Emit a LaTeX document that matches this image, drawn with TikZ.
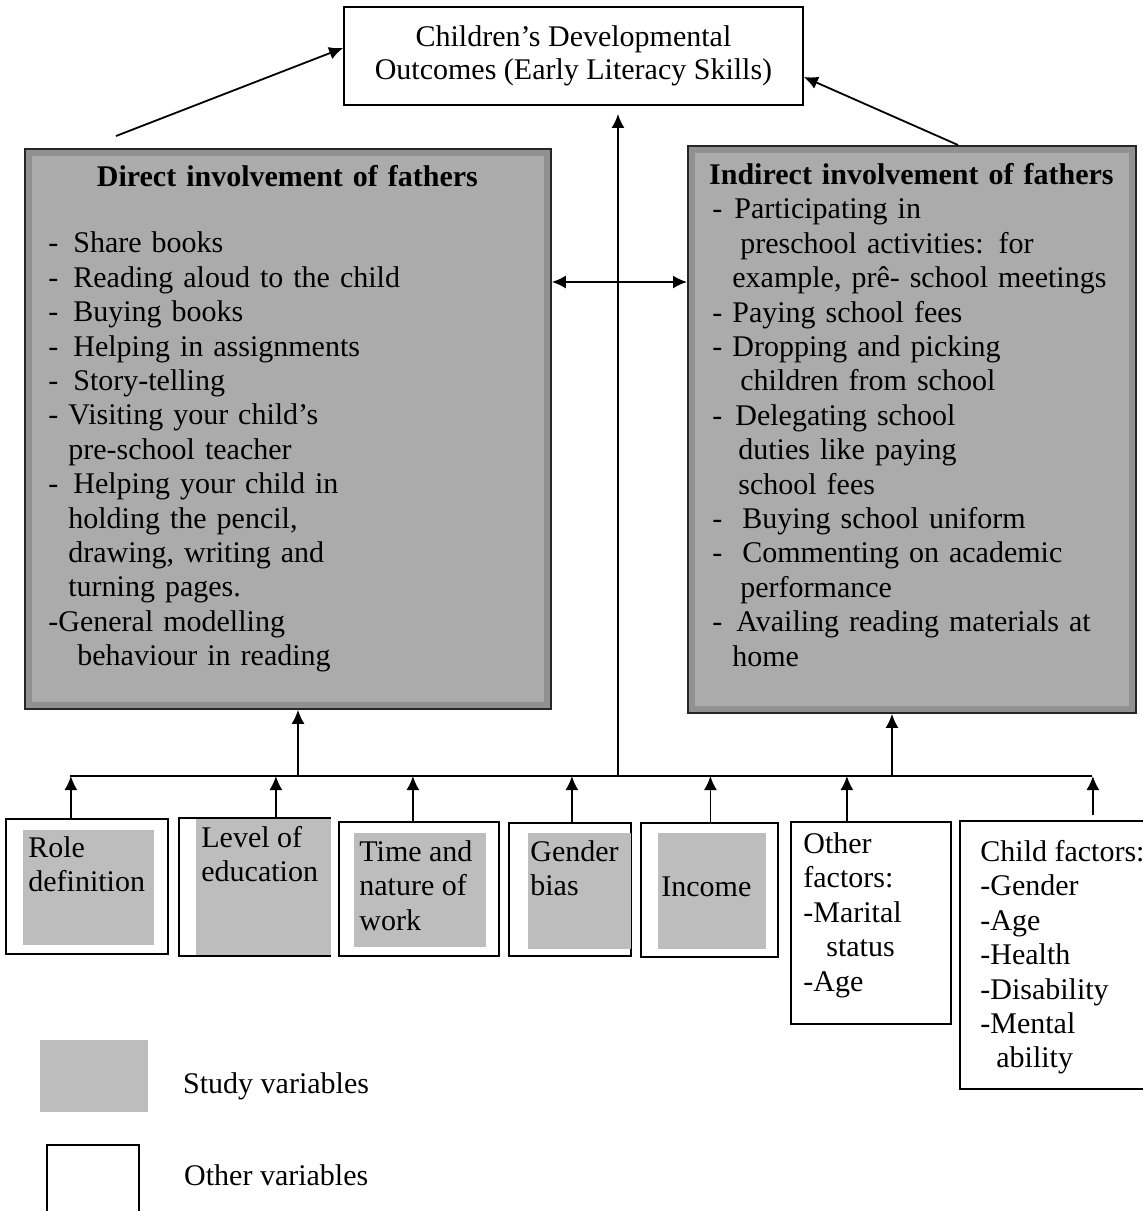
\documentclass[tikz,border=0pt]{standalone}
\usepackage{fontspec}
\setmainfont{Liberation Serif}
\usepackage{xcolor}
\usepackage{tikz}
\usetikzlibrary{calc, arrows.meta, positioning}

\definecolor{boxgray}{gray}{0.67}
\definecolor{edgegray}{gray}{0.57}
\definecolor{studygray}{gray}{0.74}

\tikzset{
  outbox/.style={draw, line width=0.9pt, fill=white, inner sep=0pt},
  bigbox/.style={draw=black!85, line width=0.9pt, fill=boxgray, anchor=north west, inner sep=0pt,
    path picture={\draw[edgegray, line width=7pt] (path picture bounding box.north west) rectangle (path picture bounding box.south east);}},
  factor/.style={draw, line width=0.9pt, fill=white, anchor=north west, inner sep=0pt},
  txt/.style={anchor=north west, align=left, inner sep=0pt},
  link/.style={line width=0.9pt, ->},
}

\begin{document}
\begin{tikzpicture}[x=0.5pt, y=-0.5pt, >={Latex[length=7pt, width=6.5pt]},
    every node/.style={font=\fontsize{15}{17.2}\selectfont}]
    \useasboundingbox (0,0) rectangle (1143,1211);

    % 1. Outcome box at the top
    \node[outbox, minimum width=229.5pt, minimum height=49pt, align=center,
        font=\fontsize{15}{16.5}\selectfont] (outcome) at (573.5,56)
        {Children’s Developmental\\Outcomes (Early Literacy Skills)};

    % 2. Direct and indirect involvement boxes
    \node[bigbox, minimum width=263pt, minimum height=280pt] (direct) at (24,148) {};
    \node[bigbox, minimum width=224pt, minimum height=283.5pt] (indirect) at (687,145) {};

    \node[txt, text width=239pt] (directtext) at (48,162) {\strut\makebox[\linewidth]{\textbf{Direct involvement of fathers}}\\[16pt]
        -\hspace{7.5pt}Share books\\
        -\hspace{7.5pt}Reading aloud to the child\\
        -\hspace{7.5pt}Buying books\\
        -\hspace{7.5pt}Helping in assignments\\
        -\hspace{7.5pt}Story-telling\\
        - Visiting your child’s\\
        \hspace*{10pt}pre-school teacher\\
        -\hspace{7.5pt}Helping your child in\\
        \hspace*{10pt}holding the pencil,\\
        \hspace*{10pt}drawing, writing and\\
        \hspace*{10pt}turning pages.\\
        -General modelling\\
        \hspace*{14.5pt}behaviour in reading};

    \node[txt, text width=199pt] (indirecttext) at (712,160) {\strut\makebox[\linewidth]{\textbf{Indirect involvement of fathers}}\\
        -\hspace{6pt}Participating in\\
        \hspace*{14pt}preschool activities: for\\
        \hspace*{10pt}example, pr\^e- school meetings\\
        -\hspace{5pt}Paying school fees\\
        -\hspace{5pt}Dropping and picking\\
        \hspace*{14pt}children from school\\
        -\hspace{6.5pt}Delegating school\\
        \hspace*{13pt}duties like paying\\
        \hspace*{13pt}school fees\\
        -\hspace{10pt}Buying school uniform\\
        -\hspace{10pt}Commenting on academic\\
        \hspace*{14pt}performance\\
        -\hspace{7pt}Availing reading materials at\\
        \hspace*{10pt}home};

    % 3. Factor boxes along the bottom
    \node[factor, minimum width=81pt, minimum height=67.5pt] (role) at (5,818) {};
    \node[factor, minimum width=75.5pt, minimum height=69pt] (level) at (178,817) {};
    \node[factor, minimum width=80pt, minimum height=67pt] (time) at (338,821) {};
    \node[factor, minimum width=61pt, minimum height=66.5pt] (gender) at (508,822) {};
    \node[factor, minimum width=68.5pt, minimum height=67pt] (income) at (640,822) {};
    \node[factor, minimum width=80pt, minimum height=101pt] (other) at (790,821) {};
    \node[factor, minimum width=100.5pt, minimum height=134pt] (child) at (959,820) {};

    % gray fill inside the study variables
    \foreach \nm/\lft/\tp/\rt/\bt in {role/18/12/15/10, level/18/2/0/2, time/16/12/14/10, gender/20/11/1/8, income/18/11/13/9}
        \fill[studygray] ([shift={(\lft,\tp)}]\nm.north west) rectangle ([shift={(-\rt,-\bt)}]\nm.south east);

    \node[txt] (roletext) at (28,833) {\strut Role\\definition};
    \node[txt] (leveltext) at (201,823) {\strut Level of\\education};
    \node[txt] (timetext) at (359,837) {\strut Time and\\nature of\\work};
    \node[txt] (gendertext) at (530,837) {\strut Gender\\bias};
    \node[txt] (incometext) at (661,872) {\strut Income};
    \node[txt] (othertext) at (803,829) {\strut Other\\factors:\\-Marital\\\hspace*{11.5pt}status\\-Age};
    \node[txt] (childtext) at (980,837) {\strut Child factors:\\-Gender\\-Age\\-Health\\-Disability\\-Mental\\\hspace*{8pt}ability};

    % 4. Connectors
    \coordinate (busL) at (70,776);
    \coordinate (busR) at (1092,776);
    \coordinate (hub) at (618,776);
    \coordinate (upL) at (298,776);
    \coordinate (upR) at (892,776);

    \draw[line width=0.9pt] (busL) -- (busR);
    \draw[link] ([shift={(92,-12)}]direct.north west) -- ([shift={(0,-8)}]outcome.west);
    \draw[link] ([shift={(271,0)}]indirect.north west) -- ([shift={(0,21)}]outcome.east);
    \draw[link, shorten >=4pt] (hub) -- (hub |- outcome.south);
    \draw[link, <->] ([shift={(0,134)}]direct.north east) -- ([shift={(0,137)}]indirect.north west);
    \draw[link] (upL) -- (upL |- direct.south);
    \draw[link] (upR) -- (upR |- indirect.south);
    \foreach \nm/\dx in {role/-8, level/10.75, time/-3, gender/1, income/0.5, other/-12}
        \draw[link] ([xshift=\dx pt]\nm.north) -- ([xshift=\dx pt]\nm.north |- busL);
    \draw[link] ([shift={(16.25pt,2.5pt)}]child.north) -- ([xshift=16.25pt]child.north |- busL);

    % 5. Legend
    \node[fill=studygray, anchor=north west, inner sep=0pt, minimum width=54pt, minimum height=36pt] (studykey) at (40,1040) {};
    \node[right=17pt of studykey, yshift=-5pt, inner sep=0pt] (studylabel) {\strut Study variables};
    \node[factor, minimum width=46pt, minimum height=40pt] (otherkey) at (46,1144) {};
    \node[right=22pt of otherkey, yshift=3pt, inner sep=0pt] (otherlabel) {\strut Other variables};

\end{tikzpicture}
\end{document}
